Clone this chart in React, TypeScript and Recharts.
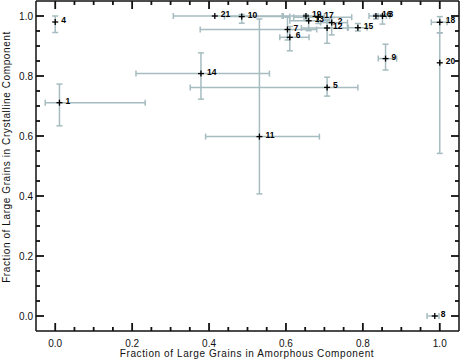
import React from 'react';
import { ScatterChart, Scatter, XAxis, YAxis, ErrorBar, ReferenceLine } from 'recharts';

const pointLabels = ['1', '2', '3', '4', '5', '6', '7', '8', '9', '10', '11', '12', '13', '14', '15', '16', '17', '18', '19', '20', '21'];
const amorphous = [0.011, 0.719, 0.851, 0.0, 0.707, 0.61, 0.604, 0.987, 0.859, 0.485, 0.531, 0.707, 0.659, 0.379, 0.787, 0.834, 0.684, 1.0, 0.652, 1.0, 0.415];
const crystalline = [0.711, 0.978, 1.0, 0.98, 0.762, 0.929, 0.955, 0.0, 0.858, 0.998, 0.598, 0.96, 0.984, 0.808, 0.961, 1.0, 0.996, 0.979, 1.0, 0.844, 1.0];
const amorphousLow: (number | null)[] = [-0.026, 0.69, 0.84, null, 0.351, 0.584, 0.377, 0.967, 0.84, 0.44, 0.391, 0.64, 0.61, 0.21, 0.762, 0.816, 0.62, 0.978, 0.593, null, 0.307];
const amorphousHigh: (number | null)[] = [0.234, 0.76, 0.87, null, 0.787, 0.66, 0.68, 0.998, 0.888, 0.61, 0.687, 0.76, 0.714, 0.557, 0.811, 0.861, 0.771, 1.019, 0.7, null, 0.59];
const crystallineLow: (number | null)[] = [0.634, 0.937, 0.973, 0.945, 0.733, 0.884, 0.92, null, 0.82, 0.976, 0.407, 0.909, 0.951, 0.723, 0.95, 0.99, 0.975, 0.944, 0.99, 0.542, null];
const crystallineHigh: (number | null)[] = [0.773, 0.995, 1.005, 1.0, 0.796, 0.965, 0.996, null, 0.906, 1.005, 0.99, 0.989, 1.0, 0.877, 0.975, 1.005, 1.0, 0.998, 1.005, 0.944, null];

const tickValues = [0, 0.05, 0.1, 0.15, 0.2, 0.25, 0.3, 0.35, 0.4, 0.45, 0.5, 0.55, 0.6, 0.65, 0.7, 0.75, 0.8, 0.85, 0.9, 0.95, 1.0];
const axisDomain: [number, number] = [-0.05, 1.05];
const xTitle = 'Fraction of Large Grains in Amorphous Component';
const yTitle = 'Fraction of Large Grains in Crystalline Component';

const data = pointLabels.map((label, i) => ({
  label,
  x: amorphous[i],
  y: crystalline[i],
  ex: amorphousLow[i] == null ? null : [amorphous[i] - (amorphousLow[i] as number), (amorphousHigh[i] as number) - amorphous[i]],
  ey: crystallineLow[i] == null ? null : [crystalline[i] - (crystallineLow[i] as number), (crystallineHigh[i] as number) - crystalline[i]],
}));

const FONT = '"Liberation Sans", Arial, Helvetica, sans-serif';
const TICK_COLOR = '#111';
const TICK_W = 1.8;
const ERR_COLOR = '#a6bcc0';

const isMajor = (v: number) => Math.abs(v * 5 - Math.round(v * 5)) < 1e-6;

const makeTick = (side: 'bottom' | 'left') => (props: any) => {
  const { x, y, payload } = props;
  const v = payload.value as number;
  const major = isMajor(v);
  const len = major ? 8 : 4;
  let line;
  let text = null;
  if (side === 'bottom') {
    line = <line x1={x} y1={y} x2={x} y2={y - len} stroke={TICK_COLOR} strokeWidth={TICK_W} />;
    if (major)
      text = (
        <text x={x} y={y + 16} textAnchor="middle" fontSize={10} fontFamily={FONT} fill="#111">
          {v.toFixed(1)}
        </text>
      );
  } else {
    line = <line x1={x} y1={y} x2={x + len} y2={y} stroke={TICK_COLOR} strokeWidth={TICK_W} />;
    if (major)
      text = (
        <text x={x - 3} y={y + 3.5} textAnchor="end" fontSize={10} fontFamily={FONT} fill="#111">
          {v.toFixed(1)}
        </text>
      );
  }
  return (
    <g>
      {line}
      {text}
    </g>
  );
};

const makeTopTick = (major: boolean) => (p: any) => {
  const len = major ? 8 : 4;
  const top = Math.min(p.y1, p.y2);
  return <line x1={p.x1} y1={top} x2={p.x1} y2={top + len} stroke={TICK_COLOR} strokeWidth={TICK_W} />;
};

const makeRightTick = (major: boolean) => (p: any) => {
  const len = major ? 8 : 4;
  const right = Math.max(p.x1, p.x2);
  return <line x1={right} y1={p.y1} x2={right - len} y2={p.y1} stroke={TICK_COLOR} strokeWidth={TICK_W} />;
};

const PlusShape = (props: any) => {
  const { cx, cy, payload } = props;
  if (cx == null || cy == null) return null;
  return (
    <g>
      <line x1={cx - 3} y1={cy} x2={cx + 3} y2={cy} stroke="#000" strokeWidth={1.3} />
      <line x1={cx} y1={cy - 3} x2={cx} y2={cy + 3} stroke="#000" strokeWidth={1.3} />
      <text x={cx + 6} y={cy + 1} fontSize={8.5} fontWeight={600} fontFamily={FONT} fill="#000">
        {payload.label}
      </text>
    </g>
  );
};

export default function App() {
  return (
    <div style={{ position: 'absolute', left: 0, top: 0, width: 460, height: 361, background: '#fff' }}>
      <ScatterChart width={460} height={361} margin={{ top: 1, right: 1, bottom: 0, left: 0 }}>
        <XAxis
          dataKey="x"
          type="number"
          domain={axisDomain}
          ticks={tickValues}
          interval={0}
          allowDataOverflow
          tickLine={false}
          tickSize={0}
          tickMargin={0}
          height={30}
          axisLine={{ stroke: '#111', strokeWidth: 1.5 }}
          tick={makeTick('bottom')}
          label={{
            content: () => (
              <text x={247} y={357} textAnchor="middle" fontSize={10} fontFamily={FONT} fill="#111" letterSpacing={0.6}>
                {xTitle}
              </text>
            ),
          }}
        />
        <YAxis
          dataKey="y"
          type="number"
          domain={axisDomain}
          ticks={tickValues}
          interval={0}
          allowDataOverflow
          tickLine={false}
          tickSize={0}
          tickMargin={0}
          width={36}
          axisLine={{ stroke: '#111', strokeWidth: 1.5 }}
          tick={makeTick('left')}
          label={{
            content: () => (
              <text
                x={10}
                y={157}
                textAnchor="middle"
                fontSize={10}
                fontFamily={FONT}
                fill="#111"
                letterSpacing={0.6}
                transform="rotate(-90 10 157)"
              >
                {yTitle}
              </text>
            ),
          }}
        />
        <ReferenceLine y={axisDomain[1]} stroke="#111" strokeWidth={1.5} />
        <ReferenceLine x={axisDomain[1]} stroke="#111" strokeWidth={1.5} />
        {tickValues.map((v) => (
          <ReferenceLine key={'t' + v} x={v} shape={makeTopTick(isMajor(v))} />
        ))}
        {tickValues.map((v) => (
          <ReferenceLine key={'r' + v} y={v} shape={makeRightTick(isMajor(v))} />
        ))}
        <Scatter data={data} shape={<PlusShape />} isAnimationActive={false}>
          <ErrorBar dataKey="ex" direction="x" width={3} stroke={ERR_COLOR} strokeWidth={1.5} isAnimationActive={false} />
          <ErrorBar dataKey="ey" direction="y" width={3} stroke={ERR_COLOR} strokeWidth={1.5} isAnimationActive={false} />
        </Scatter>
      </ScatterChart>
    </div>
  );
}
